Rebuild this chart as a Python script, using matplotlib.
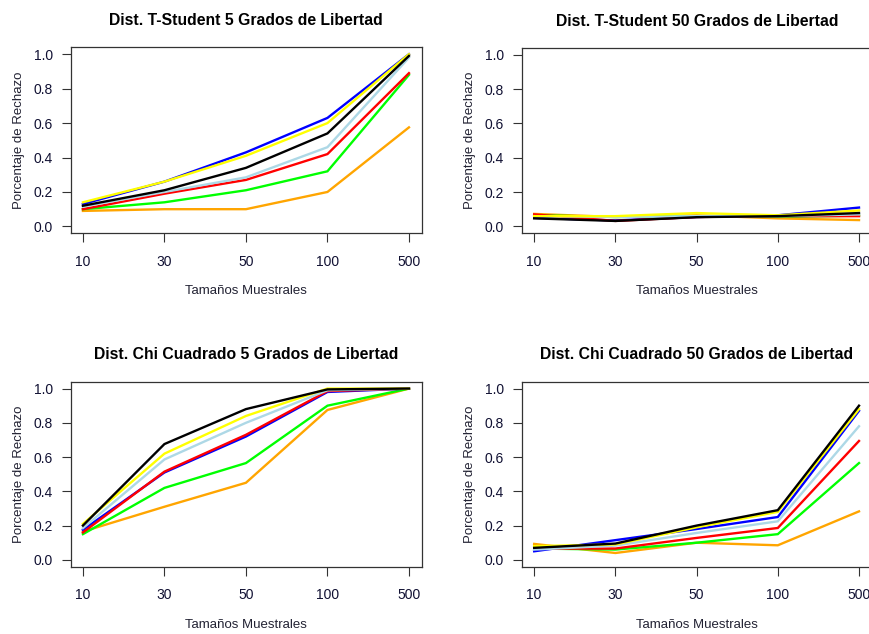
import matplotlib
matplotlib.use("Agg")
import matplotlib.pyplot as plt

plt.rcParams['font.family'] = ['Liberation Sans', 'DejaVu Sans']

# tamaños muestrales (eje x categórico)
sizes = ["10", "30", "50", "100", "500"]
x = [1, 2, 3, 4, 5]

# orden de dibujo de las series y sus colores
series = ["orange", "green", "blue", "red", "lightblue", "yellow", "black"]
colors = {"orange": "#FFA500", "green": "#00FF00", "blue": "#0000FF",
          "red": "#FF0000", "lightblue": "#ADD8E6", "yellow": "#FFFF00",
          "black": "#000000"}

# T-Student 5 grados de libertad
t5 = {
    "blue":      [0.13, 0.26, 0.43, 0.63, 1.00],
    "yellow":    [0.14, 0.26, 0.41, 0.60, 1.00],
    "black":     [0.12, 0.21, 0.34, 0.54, 0.99],
    "lightblue": [0.115, 0.20, 0.285, 0.46, 0.98],
    "red":       [0.10, 0.19, 0.27, 0.42, 0.89],
    "green":     [0.10, 0.14, 0.21, 0.32, 0.88],
    "orange":    [0.09, 0.10, 0.10, 0.20, 0.575],
}

# T-Student 50 grados de libertad
t50 = {
    "blue":      [0.05, 0.035, 0.055, 0.065, 0.11],
    "yellow":    [0.06, 0.06, 0.078, 0.065, 0.093],
    "black":     [0.047, 0.032, 0.054, 0.06, 0.078],
    "lightblue": [0.06, 0.055, 0.06, 0.06, 0.07],
    "red":       [0.07, 0.032, 0.055, 0.06, 0.06],
    "green":     [0.065, 0.055, 0.06, 0.056, 0.063],
    "orange":    [0.073, 0.055, 0.065, 0.047, 0.037],
}

# Chi cuadrado 5 grados de libertad
c5 = {
    "black":     [0.20, 0.676, 0.88, 0.995, 1.00],
    "yellow":    [0.21, 0.62, 0.84, 1.00, 1.00],
    "lightblue": [0.185, 0.586, 0.80, 0.99, 1.00],
    "blue":      [0.175, 0.51, 0.72, 0.98, 1.00],
    "red":       [0.16, 0.515, 0.73, 0.985, 1.00],
    "green":     [0.15, 0.42, 0.565, 0.90, 1.00],
    "orange":    [0.165, 0.31, 0.45, 0.875, 1.00],
}

# Chi cuadrado 50 grados de libertad
c50 = {
    "black":     [0.07, 0.095, 0.20, 0.29, 0.90],
    "yellow":    [0.08, 0.09, 0.19, 0.28, 0.88],
    "blue":      [0.05, 0.115, 0.18, 0.25, 0.87],
    "lightblue": [0.06, 0.083, 0.157, 0.225, 0.78],
    "red":       [0.065, 0.066, 0.128, 0.186, 0.694],
    "green":     [0.066, 0.06, 0.10, 0.15, 0.565],
    "orange":    [0.093, 0.04, 0.10, 0.085, 0.283],
}

titles = ["Dist. T-Student 5 Grados de Libertad",
          "Dist. T-Student 50 Grados de Libertad",
          "Dist. Chi Cuadrado 5 Grados de Libertad",
          "Dist. Chi Cuadrado 50 Grados de Libertad"]
datasets = [t5, t50, c5, c50]

W, H = 869, 634
fig = plt.figure(figsize=(W / 100, H / 100), dpi=100)

# cajas en píxeles: izquierda, derecha, arriba, abajo
boxes = [(70.7, 422, 47.3, 233.3), (522, 872, 48, 233.3),
         (70.7, 422, 381.7, 566.7), (522, 872, 381.7, 566.7)]

for (l, r, t, b), title, data in zip(boxes, titles, datasets):
    ax = fig.add_axes([l / W, 1 - b / H, (r - l) / W, (b - t) / H])
    for s in series:
        ax.plot(x, data[s], color=colors[s], lw=1.7, solid_joinstyle='miter')
    ax.set_xlim(0.85, 5.16)
    ax.set_ylim(-0.04, 1.04)
    ax.set_xticks(x, sizes)
    ax.set_yticks([0, 0.2, 0.4, 0.6, 0.8, 1.0])
    ax.set_yticklabels(["0.0", "0.2", "0.4", "0.6", "0.8", "1.0"])
    ax.tick_params(direction='out', length=6.5, width=0.8, pad=6.5,
                   labelsize=10, color='#333333', labelcolor='#111133')
    ax.tick_params(axis='x', pad=9)
    for sp in ax.spines.values():
        sp.set_color('#333333')
        sp.set_linewidth(0.9)
    ax.set_title(title, fontsize=11.3, fontweight='bold', pad=16)
    ax.set_xlabel("Tamaños Muestrales", fontsize=9.5, labelpad=12, color='#222233')
    ax.set_ylabel("Porcentaje de Rechazo", fontsize=9.5, labelpad=6, color='#222233')

fig.savefig("out.png", dpi=100)
